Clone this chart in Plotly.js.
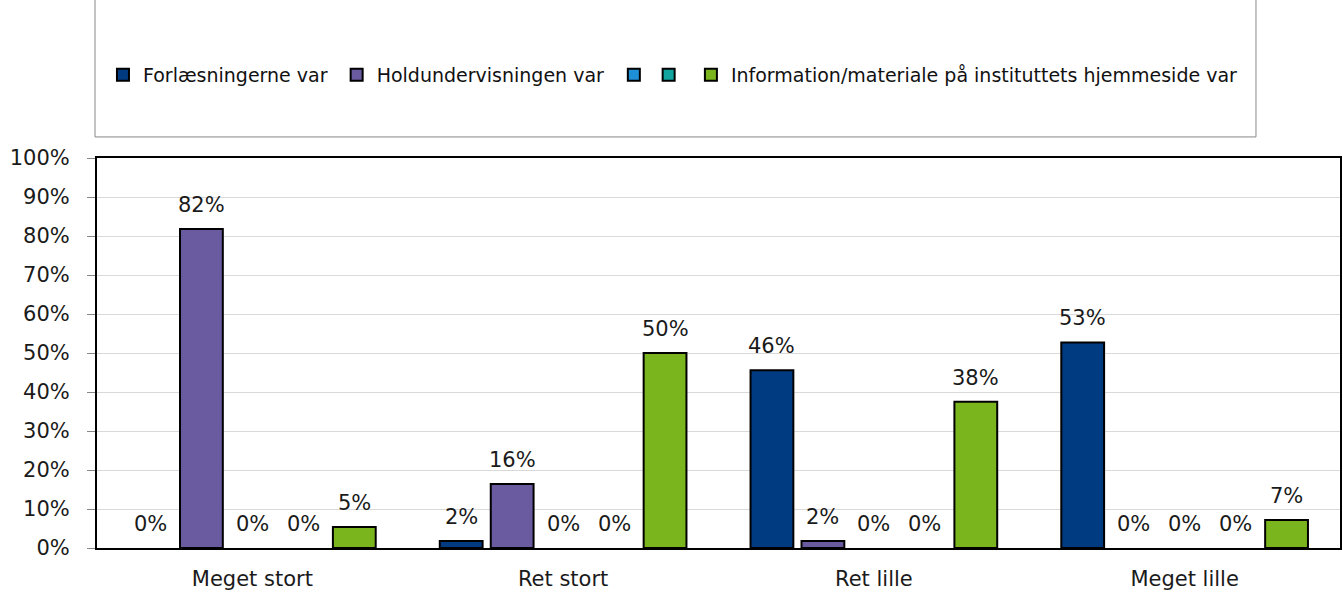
<!DOCTYPE html>
<html>
<head>
<meta charset="utf-8">
<script src="https://cdn.plot.ly/plotly-3.0.1.min.js"></script>
<style>
  html, body { margin: 0; padding: 0; background: #fff; }
  #chart { width: 1343px; height: 597px; }
</style>
</head>
<body>
<div id="chart"></div>
<script>
const categories = ["Meget stort", "Ret stort", "Ret lille", "Meget lille"];
const seriesNames = ["Forlæsningerne var", "Holdundervisningen var", " ", " ", "Information/materiale på instituttets hjemmeside var"];
const forlaesninger = [0, 0.018, 0.456, 0.527];
const holdundervisning = [0.818, 0.164, 0.018, 0];
const serie3 = [0, 0, 0, 0];
const serie4 = [0, 0, 0, 0];
const information = [0.054, 0.50, 0.375, 0.072];
const yTickVals = [0, 0.1, 0.2, 0.3, 0.4, 0.5, 0.6, 0.7, 0.8, 0.9, 1.0];
const yTickText = ["0%", "10%", "20%", "30%", "40%", "50%", "60%", "70%", "80%", "90%", "100%"];

const colors = ["#003A80", "#6A5BA0", "#1E90D8", "#12A5A0", "#7AB51D"];
const allValues = [forlaesninger, holdundervisning, serie3, serie4, information];
const FONT = "'DejaVu Sans', sans-serif";
const TXT = "#1a1a1a";

const BARGAP = 0.18, GROUPGAP = 0.16, N = allValues.length;
const legendKeys = ["legend", "legend2", "legend3", "legend4", "legend5"];
const legendX = [0.0048, 0.1928, 0.4158, 0.4438, 0.4778];

// visible bars (no outline on zero-height bars)
const dataTraces = allValues.map((vals, i) => ({
  type: "bar",
  name: seriesNames[i],
  showlegend: false,
  x: categories,
  y: vals,
  marker: {
    color: colors[i],
    line: { color: "#000", width: vals.map(v => (v > 0 ? 2 : 0)) }
  },
  hoverinfo: "x+y"
}));

// legend entries (empty traces on an overlaid hidden axis)
const legendTraces = allValues.map((vals, i) => ({
  type: "bar",
  name: seriesNames[i],
  legend: legendKeys[i],
  xaxis: "x2",
  x: categories,
  y: categories.map(() => null),
  marker: { color: colors[i], line: { color: "#000", width: 2 } },
  hoverinfo: "skip"
}));

// data labels above each bar, positioned in axis units via the category index
const slot = (1 - BARGAP) / N;
const annotations = [];
allValues.forEach((vals, s) => {
  vals.forEach((v, c) => {
    annotations.push({
      xref: "x", yref: "y",
      x: c - (1 - BARGAP) / 2 + slot * (s + 0.5),
      y: v,
      text: Math.round(v * 100) + "%",
      showarrow: false,
      yanchor: "bottom",
      yshift: 10,
      font: { family: FONT, size: 21, color: TXT }
    });
  });
});

const legendBase = {
  orientation: "h",
  y: 1.213, yanchor: "middle", xanchor: "left",
  font: { family: FONT, size: 19, color: "#111" },
  itemwidth: 30,
  bgcolor: "rgba(0,0,0,0)",
  borderwidth: 0
};

const layout = {
  width: 1343, height: 597,
  margin: { l: 97, r: 3, t: 158, b: 49 },
  paper_bgcolor: "#fff", plot_bgcolor: "#fff",
  barmode: "group",
  bargap: BARGAP,
  bargroupgap: GROUPGAP,
  font: { family: FONT, size: 21, color: TXT },
  showlegend: true,
  xaxis: {
    type: "category",
    showline: true, mirror: true, linecolor: "#000", linewidth: 2,
    ticks: "", showgrid: false,
    ticklabelstandoff: 11,
    tickfont: { family: FONT, size: 21, color: TXT }
  },
  xaxis2: {
    type: "category", overlaying: "x", visible: false,
    matches: "x"
  },
  yaxis: {
    range: [0, 1.0],
    tickvals: yTickVals, ticktext: yTickText,
    showline: true, mirror: true, linecolor: "#000", linewidth: 2,
    ticks: "outside", ticklen: 8, tickcolor: "#888", tickwidth: 1,
    ticklabelstandoff: 13,
    showgrid: true, gridcolor: "#d9d9d9", gridwidth: 1,
    zeroline: false,
    tickfont: { family: FONT, size: 21, color: TXT }
  },
  annotations: annotations,
  shapes: [{
    type: "rect", xref: "paper", yref: "paper",
    x0: -0.0016, x1: 0.9324, y0: 1.054, y1: 1.415,
    line: { color: "#888", width: 1 }, fillcolor: "rgba(0,0,0,0)"
  }]
};
legendKeys.forEach((k, i) => {
  layout[k] = Object.assign({}, legendBase, { x: legendX[i] });
});

Plotly.newPlot("chart", dataTraces.concat(legendTraces), layout, { displayModeBar: false, staticPlot: true });
</script>
</body>
</html>
